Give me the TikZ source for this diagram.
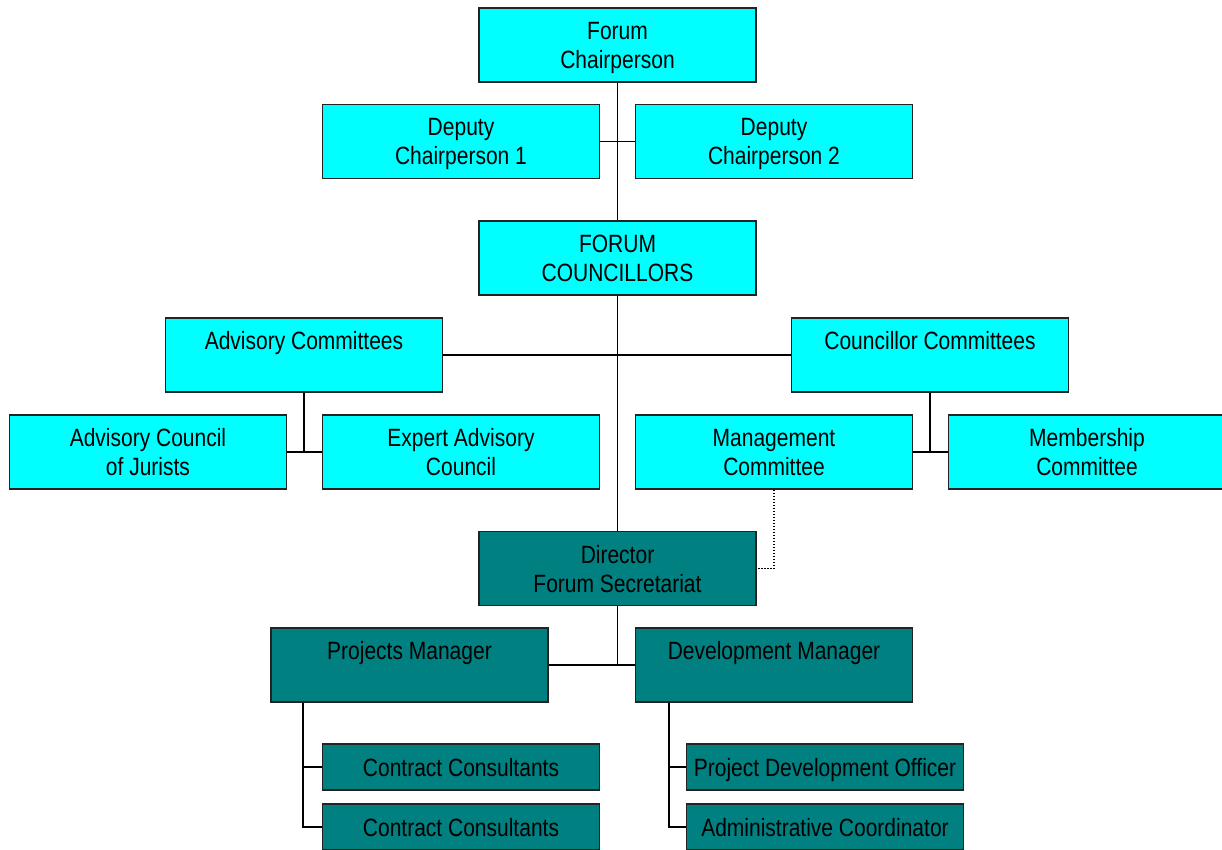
\documentclass[tikz,border=0pt]{standalone}
\usepackage{fontspec}
\setmainfont{Liberation Sans}[FakeStretch=0.84]
\definecolor{boxcyan}{RGB}{0,255,255}
\definecolor{boxteal}{RGB}{0,128,128}
\definecolor{edgegray}{RGB}{35,35,35}
\begin{document}
\begin{tikzpicture}[x=1pt,y=-1pt,
  base/.style={draw=edgegray,line width=1.6pt,minimum width=277pt,inner sep=0pt,
    align=center,font=\fontsize{25}{29}\selectfont,text=black,text depth=0pt},
  big/.style={base,minimum height=74pt},
  small/.style={base,minimum height=46pt},
  cyanbox/.style={fill=boxcyan},
  tealbox/.style={fill=boxteal},
  conn/.style={draw=black,line width=1.7pt},
  dotconn/.style={draw=black,line width=1.2pt,dash pattern=on 1.5pt off 1.5pt}]
\useasboundingbox (0,0) rectangle (1222,850);
% nodes
\node[big,cyanbox] (chair) at (617.5,45) {Forum\\Chairperson};
\node[big,cyanbox] (dep1) at (461,141.5) {Deputy\\Chairperson 1};
\node[big,cyanbox] (dep2) at (774,141.5) {Deputy\\Chairperson 2};
\node[big,cyanbox] (coun) at (617.5,258) {FORUM\\COUNCILLORS};
\node[big,cyanbox] (advc) at (304,355) {Advisory Committees\\\mbox{}};
\node[big,cyanbox] (ccom) at (930,355) {Councillor Committees\\\mbox{}};
\node[big,cyanbox] (jur) at (148,452) {Advisory Council\\of Jurists};
\node[big,cyanbox] (exp) at (461,452) {Expert Advisory\\Council};
\node[big,cyanbox] (mgmt) at (774,452) {Management\\Committee};
\node[big,cyanbox] (memb) at (1087,452) {Membership\\Committee};
\node[big,tealbox] (dir) at (617.5,568.5) {Director\\Forum Secretariat};
\node[big,tealbox] (pm) at (409.5,665) {Projects Manager\\\mbox{}};
\node[big,tealbox] (dm) at (774,665) {Development Manager\\\mbox{}};
\node[small,tealbox] (cc1) at (461,767) {Contract Consultants};
\node[small,tealbox] (cc2) at (461,827) {Contract Consultants};
\node[small,tealbox] (pdo) at (825,767) {Project Development Officer};
\node[small,tealbox] (adc) at (825,827) {Administrative Coordinator};
% helper coordinates
\coordinate (pmv) at ([xshift=33pt]pm.south west);
\coordinate (dmv) at ([xshift=34pt]dm.south west);
% connectors
\draw[conn] (chair.south) -- (coun.north);
\draw[conn] (dep1.east) -- (dep2.west);
\draw[conn] (coun.south) -- (dir.north);
\draw[conn] (advc.east) -- (ccom.west);
\draw[conn] (advc.south) -- (advc.south |- jur.east);
\draw[conn] (jur.east) -- (exp.west);
\draw[conn] (ccom.south) -- (ccom.south |- mgmt.east);
\draw[conn] (mgmt.east) -- (memb.west);
\draw[dotconn] (mgmt.south) |- (dir.east);
\draw[conn] (dir.south) -- (dir.south |- pm.east);
\draw[conn] (pm.east) -- (dm.west);
\draw[conn] (pmv) |- (cc1.west);
\draw[conn] (pmv) |- (cc2.west);
\draw[conn] (dmv) |- (pdo.west);
\draw[conn] (dmv) |- (adc.west);
\end{tikzpicture}
\end{document}
